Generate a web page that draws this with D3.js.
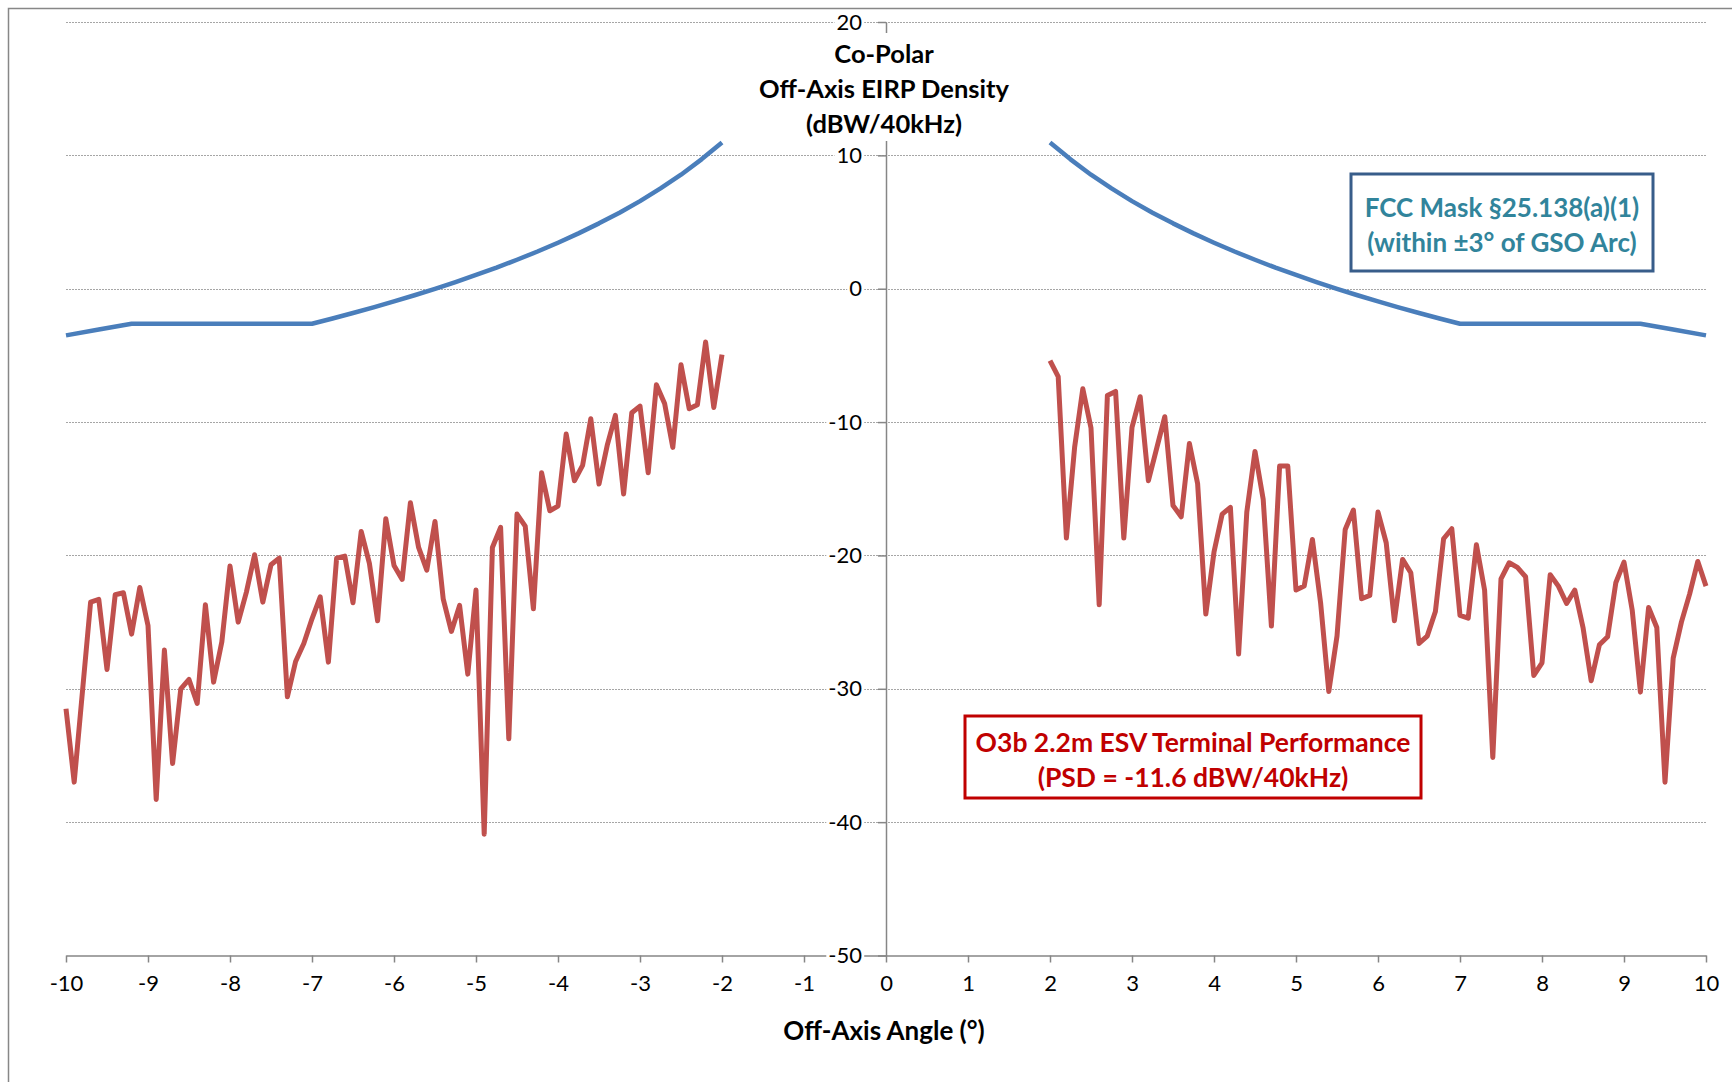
<!DOCTYPE html>
<html>
<head>
<meta charset="utf-8">
<script src="https://cdn.jsdelivr.net/npm/d3@7"></script>
<style>
  body { margin: 0; background: #fff; }
  svg { display: block; font-family: Lato, "Noto Sans", sans-serif; }
</style>
</head>
<body>
<svg width="1732" height="1082"></svg>
<script>
(function () {
    'use strict';

    // off-axis angles (deg), 0.1 deg steps
    var leftAngles = d3.range(-100, -19).map(function (d) { return d / 10; });
    var rightAngles = d3.range(20, 101).map(function (d) { return d / 10; });

    // O3b 2.2m ESV measured EIRP density (dBW/40kHz)
    var leftEirp = [
        -31.5, -37.0, -30.25, -23.5, -23.3, -28.55, -22.95, -22.8, -25.9, -22.4,
        -25.25, -38.3, -27.1, -35.6, -30.0, -29.3, -31.1, -23.7, -29.5, -26.5,
        -20.8, -25.0, -22.75, -19.95, -23.5, -20.7, -20.2, -30.6, -27.95, -26.6,
        -24.75, -23.1, -28.0, -20.2, -20.05, -23.55, -18.2, -20.6, -24.9, -17.25,
        -20.75, -21.8, -16.05, -19.4, -21.1, -17.45, -23.25, -25.7, -23.75, -28.9,
        -22.6, -40.9, -19.4, -17.9, -33.75, -16.9, -17.8, -24.0, -13.8, -16.65,
        -16.3, -10.9, -14.4, -13.25, -9.75, -14.65, -11.75, -9.5, -15.4, -9.3,
        -8.8, -13.8, -7.2, -8.6, -11.9, -5.7, -9.0, -8.7, -4.0, -8.9,
        -4.95
    ];
    var rightEirp = [
        -5.4, -6.6, -18.7, -11.9, -7.5, -10.45, -23.7, -8.0, -7.7, -18.7,
        -10.4, -8.1, -14.4, -12.0, -9.6, -16.25, -17.1, -11.6, -14.6, -24.4,
        -19.75, -16.9, -16.4, -27.4, -16.75, -12.2, -15.8, -25.3, -13.3, -13.3,
        -22.6, -22.3, -18.8, -23.55, -30.2, -26.05, -18.05, -16.6, -23.25, -23.0,
        -16.75, -19.05, -24.9, -20.3, -21.3, -26.6, -26.05, -24.2, -18.75, -18.0,
        -24.5, -24.7, -19.2, -22.6, -35.15, -21.75, -20.55, -20.9, -21.6, -29.0,
        -28.05, -21.45, -22.3, -23.6, -22.6, -25.4, -29.4, -26.7, -26.1, -22.05,
        -20.5, -24.1, -30.25, -23.9, -25.4, -37.0, -27.7, -25.0, -22.9, -20.45,
        -22.3
    ];

    // FCC mask, positive side (mirrored for negative angles)
    var maskAngles = [2, 2.25, 2.5, 2.75, 3, 3.25, 3.5, 3.75, 4, 4.25, 4.5, 4.75,
        5, 5.25, 5.5, 5.75, 6, 6.25, 6.5, 6.75, 7, 9.2, 9.6, 10];
    var maskValues = [10.97, 9.7, 8.55, 7.52, 6.57, 5.7, 4.9, 4.15, 3.45, 2.79, 2.17, 1.58,
        1.03, 0.5, -0.01, -0.49, -0.95, -1.4, -1.82, -2.23, -2.63, -2.63, -3.06, -3.5];

    var xTicks = d3.range(-10, 11);
    var yTicks = [-50, -40, -30, -20, -10, 0, 10, 20];

    var svg = d3.select('svg');

    svg.append('rect')
        .attr('x', 8.5)
        .attr('y', 8.5)
        .attr('width', 1800)
        .attr('height', 1200)
        .attr('fill', 'none')
        .attr('stroke', '#878787')
        .attr('stroke-width', 1.5);

    var x = d3.scaleLinear().domain([-10, 10]).range([66, 1706]);
    var y = d3.scaleLinear().domain([-50, 20]).range([955.5, 22]);
    var fmt = function (d) { return String(d); };   // plain hyphen minus

    // gridlines
    svg.append('g')
        .selectAll('line')
        .data(yTicks.filter(function (d) { return d > -50; }))
        .enter().append('line')
        .attr('x1', x(-10))
        .attr('x2', x(10))
        .attr('y1', function (d) { return Math.round(y(d)) + 0.5; })
        .attr('y2', function (d) { return Math.round(y(d)) + 0.5; })
        .attr('stroke', '#a6a6a6')
        .attr('stroke-width', 1)
        .attr('stroke-dasharray', '2,1');

    // x axis
    var gx = svg.append('g')
        .attr('transform', 'translate(0,' + y(-50) + ')')
        .call(d3.axisBottom(x).tickValues(xTicks).tickFormat(fmt)
            .tickSize(7).tickPadding(13).tickSizeOuter(0));
    gx.select('.domain').attr('stroke', '#868686').attr('stroke-width', 1.5);
    gx.selectAll('.tick line').attr('stroke', '#868686').attr('stroke-width', 1.5);
    gx.selectAll('.tick text')
        .attr('fill', '#000')
        .style('font-size', '22px')
        .style('font-family', 'Lato');

    // y axis
    var gy = svg.append('g')
        .attr('transform', 'translate(' + x(0) + ',0)')
        .call(d3.axisLeft(y).tickValues(yTicks).tickFormat(fmt)
            .tickSize(8).tickPadding(16).tickSizeOuter(0));
    gy.select('.domain').attr('stroke', '#868686').attr('stroke-width', 1.5);
    gy.selectAll('.tick line').attr('stroke', '#868686').attr('stroke-width', 1.5);
    gy.selectAll('.tick text')
        .attr('fill', '#000')
        .style('font-size', '22px')
        .style('font-family', 'Lato');
    gy.selectAll('.tick').each(function () {
        var t = d3.select(this).select('text');
        var bb = t.node().getBBox();
        d3.select(this).insert('rect', 'text')
            .attr('x', bb.x - 2)
            .attr('y', bb.y + 3)
            .attr('width', bb.width + 4)
            .attr('height', bb.height - 6)
            .attr('fill', '#fff');
    });

    // y axis title (covers the axis line)
    var title = svg.append('g');
    title.append('rect')
        .attr('x', x(0) - 135)
        .attr('y', 33)
        .attr('width', 270)
        .attr('height', 108)
        .attr('fill', '#fff');
    title.selectAll('text')
        .data(['Co-Polar', 'Off-Axis EIRP Density', '(dBW/40kHz)'])
        .enter().append('text')
        .attr('x', x(0) - 2)
        .attr('y', function (d, i) { return 63 + i * 35; })
        .attr('text-anchor', 'middle')
        .style('font-size', '25.5px')
        .style('font-weight', 'bold')
        .text(function (d) { return d; });

    // x axis title
    svg.append('text')
        .attr('x', x(0) - 2)
        .attr('y', 1040)
        .attr('text-anchor', 'middle')
        .style('font-size', '26px')
        .style('font-weight', 'bold')
        .text('Off-Axis Angle (°)');

    var line = d3.line()
        .x(function (d) { return x(d[0]); })
        .y(function (d) { return y(d[1]); });

    var maskRight = maskAngles.map(function (a, i) { return [a, maskValues[i]]; });
    var maskLeft = maskAngles.map(function (a, i) { return [-a, maskValues[i]]; });

    [maskLeft, maskRight].forEach(function (pts) {
        svg.append('path')
            .attr('d', line(pts))
            .attr('fill', 'none')
            .attr('stroke', '#4a7ebb')
            .attr('stroke-width', 4.5)
            .attr('stroke-linejoin', 'round');
    });

    var eirpLeft = leftAngles.map(function (a, i) { return [a, leftEirp[i]]; });
    var eirpRight = rightAngles.map(function (a, i) { return [a, rightEirp[i]]; });

    [eirpLeft, eirpRight].forEach(function (pts) {
        svg.append('path')
            .attr('d', line(pts))
            .attr('fill', 'none')
            .attr('stroke', '#c0504d')
            .attr('stroke-width', 5)
            .attr('stroke-linejoin', 'round');
    });

    // annotation boxes
    var fcc = svg.append('g');
    fcc.append('rect')
        .attr('x', 1351)
        .attr('y', 174)
        .attr('width', 302)
        .attr('height', 97)
        .attr('fill', '#fff')
        .attr('stroke', '#385d8a')
        .attr('stroke-width', 3);
    fcc.selectAll('text')
        .data(['FCC Mask §25.138(a)(1)', '(within ±3° of GSO Arc)'])
        .enter().append('text')
        .attr('x', 1502)
        .attr('y', function (d, i) { return 217 + i * 35; })
        .attr('text-anchor', 'middle')
        .attr('fill', '#31849b')
        .style('font-size', '26px')
        .style('font-weight', 'bold')
        .text(function (d) { return d; });

    var o3b = svg.append('g');
    o3b.append('rect')
        .attr('x', 965)
        .attr('y', 716)
        .attr('width', 456)
        .attr('height', 82)
        .attr('fill', '#fff')
        .attr('stroke', '#c00000')
        .attr('stroke-width', 3);
    o3b.selectAll('text')
        .data(['O3b 2.2m ESV Terminal Performance', '(PSD = -11.6 dBW/40kHz)'])
        .enter().append('text')
        .attr('x', 1193)
        .attr('y', function (d, i) { return 752 + i * 35; })
        .attr('text-anchor', 'middle')
        .attr('fill', '#c00000')
        .style('font-size', '26.5px')
        .style('font-weight', 'bold')
        .text(function (d) { return d; });

}());
</script>
</body>
</html>
